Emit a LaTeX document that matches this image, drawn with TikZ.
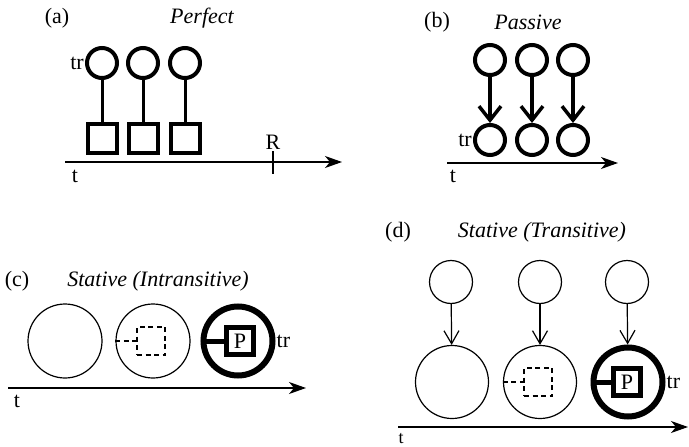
\documentclass[tikz,border=0pt]{standalone}
\usepackage{fontspec}
\setmainfont{Liberation Serif}
\usetikzlibrary{arrows.meta}

\begin{document}
\begin{tikzpicture}[x=1pt,y=-1pt,font=\fontsize{22}{26}\selectfont,
   ring/.style={draw,circle,line width=4pt,minimum size=30pt,inner sep=0pt},
   landmark/.style={draw,line width=4pt,minimum size=29pt,inner sep=0pt},
   bigring/.style={draw,circle,line width=1.2pt,minimum size=74pt,inner sep=0pt},
   smallring/.style={draw,circle,line width=1.2pt,minimum size=43pt,inner sep=0pt},
   heavyring/.style={draw,circle,line width=6pt,minimum size=69pt,inner sep=0pt},
   ghostbox/.style={draw,line width=1.3pt,dash pattern=on 5pt off 3.5pt,minimum size=28pt,inner sep=0pt},
   pbox/.style={draw,line width=5pt,minimum size=27pt,inner sep=0pt},
   timeline/.style={line width=1.2pt,-{Stealth[length=17pt,width=12pt,inset=5pt]}},
   title/.style={font=\fontsize{22}{26}\selectfont\itshape}]
  \useasboundingbox (0,0) rectangle (689,447);
  % (a) perfect
  \node at (57,18) (la) {(a)};
  \node[title] at (202,18) (ta) {Perfect};
  \node[ring] at (102,63) (a1) {};
  \node[ring] at (143,63) (a2) {};
  \node[ring] at (185,63) (a3) {};
  \node[landmark] at (102,138) (s1) {};
  \node[landmark] at (143,138) (s2) {};
  \node[landmark] at (185,138) (s3) {};
  \draw[line width=3pt] (a1) -- (s1);
  \draw[line width=3pt] (a2) -- (s2);
  \draw[line width=3pt] (a3) -- (s3);
  \node[left,inner sep=1pt] at (a1.west) (tra) {tr};
  \coordinate (ta0) at (65,162);
  \coordinate (ta1) at (342,162);
  \draw[timeline] (ta0) -- (ta1);
  \coordinate (r0) at (273,151);
  \coordinate (r1) at (273,174);
  \draw[line width=1.2pt] (r0) -- (r1);
  \node at (273,142) (rr) {R};
  \node at (75,176) (tta) {t};
  % (b) passive
  \node at (437,22) (lb) {(b)};
  \node[title] at (528,22) (tb) {Passive};
  \node[ring] at (490,60) (b1) {};
  \node[ring] at (532,60) (b2) {};
  \node[ring] at (573,60) (b3) {};
  \node[ring] at (490,140) (d1) {};
  \node[ring] at (532,140) (d2) {};
  \node[ring] at (573,140) (d3) {};
  \draw[line width=3.5pt,-{Straight Barb[length=14pt,width=22pt]}] (b1) -- (d1);
  \draw[line width=3.5pt,-{Straight Barb[length=14pt,width=22pt]}] (b2) -- (d2);
  \draw[line width=3.5pt,-{Straight Barb[length=14pt,width=22pt]}] (b3) -- (d3);
  \node[left,inner sep=1pt] at (d1.west) (trb) {tr};
  \coordinate (tb0) at (447,163);
  \coordinate (tb1) at (618,163);
  \draw[timeline] (tb0) -- (tb1);
  \node at (453,176) (ttb) {t};
  % (c) stative, intransitive
  \node at (17,281) (lc) {(c)};
  \node[title] at (158,281) (tc) {Stative (Intransitive)};
  \node[bigring] at (65,341) (c1) {};
  \node[bigring] at (153,341) (c2) {};
  \node[heavyring] at (238,341) (c3) {};
  \node[ghostbox] at (151,341) (g2) {};
  \draw[line width=1.3pt,dash pattern=on 5pt off 3.5pt] (c2.west) -- (g2.west);
  \node[pbox] at (240,341) (p3) {P};
  \draw[line width=5pt] (c3.west) -- (p3.west);
  \node[right,inner sep=1pt] at (c3.east) (trc) {tr};
  \coordinate (tc0) at (8,388);
  \coordinate (tc1) at (306,388);
  \draw[timeline] (tc0) -- (tc1);
  \node at (17,401) (ttc) {t};
  % (d) stative, transitive
  \node at (398,232) (ld) {(d)};
  \node[title] at (542,232) (td) {Stative (Transitive)};
  \node[smallring] at (451,282) (e1) {};
  \node[smallring] at (540,282) (e2) {};
  \node[smallring] at (627,282) (e3) {};
  \node[bigring,minimum size=73pt] at (452,382) (f1) {};
  \node[bigring,minimum size=73pt] at (540,382) (f2) {};
  \node[heavyring] at (628,382) (f3) {};
  \draw[line width=1.2pt,-{Straight Barb[length=13pt,width=15pt]}] (e1) -- (f1);
  \draw[line width=1.2pt,-{Straight Barb[length=13pt,width=15pt]}] (e2) -- (f2);
  \draw[line width=1.2pt,-{Straight Barb[length=13pt,width=15pt]}] (e3) -- (f3);
  \node[ghostbox] at (538,382) (g5) {};
  \draw[line width=1.3pt,dash pattern=on 5pt off 3.5pt] (f2.west) -- (g5.west);
  \node[pbox] at (627,382) (p6) {P};
  \draw[line width=5pt] (f3.west) -- (p6.west);
  \node[right,inner sep=1pt] at (f3.east) (trd) {tr};
  \coordinate (td0) at (398,427);
  \coordinate (td1) at (688,427);
  \draw[timeline] (td0) -- (td1);
  \node[anchor=south,inner sep=0pt,font=\fontsize{18}{22}\selectfont] at (401,444) (ttd) {t};
\end{tikzpicture}
\end{document}
